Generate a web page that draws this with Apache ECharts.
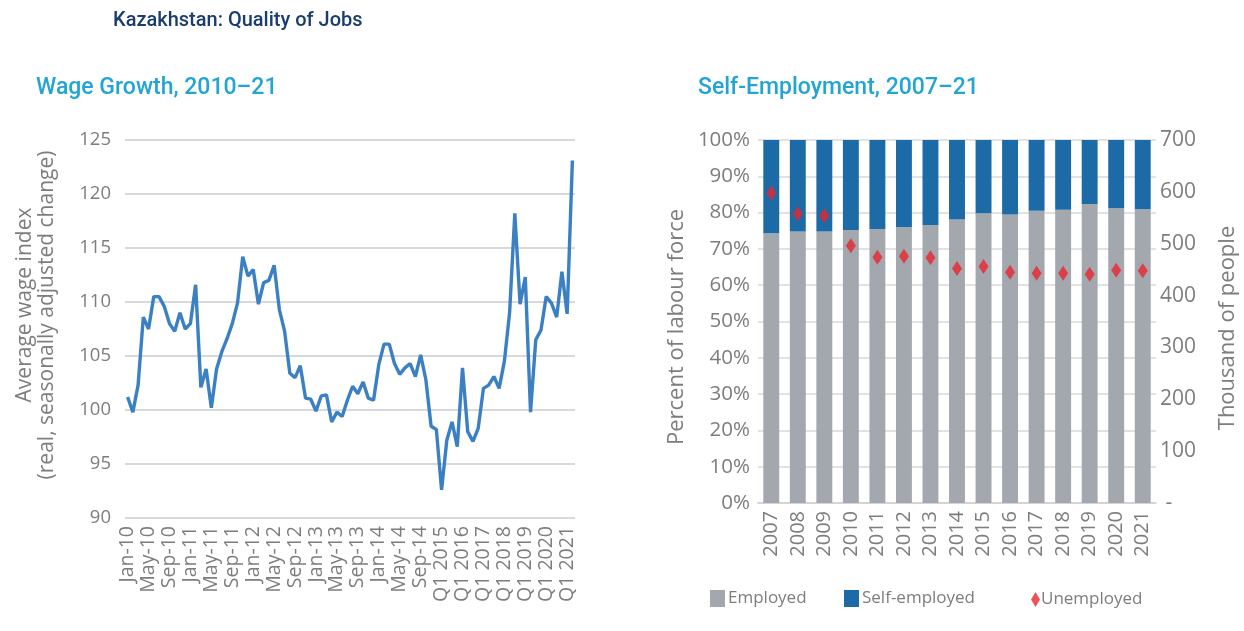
<!DOCTYPE html>
<html>
<head>
<meta charset="utf-8">
<script src="https://cdn.jsdelivr.net/npm/echarts@6/dist/echarts.min.js"></script>
<style>
html,body{margin:0;padding:0;background:#fff;}
#chart{width:1244px;height:631px;}
</style>
</head>
<body>
<div id="chart"></div>
<script>
// ---- Left panel: wage index ----
const wageCategories = [
 "Jan-10","Feb-10","Mar-10","Apr-10","May-10","Jun-10","Jul-10","Aug-10","Sep-10","Oct-10","Nov-10","Dec-10",
 "Jan-11","Feb-11","Mar-11","Apr-11","May-11","Jun-11","Jul-11","Aug-11","Sep-11","Oct-11","Nov-11","Dec-11",
 "Jan-12","Feb-12","Mar-12","Apr-12","May-12","Jun-12","Jul-12","Aug-12","Sep-12","Oct-12","Nov-12","Dec-12",
 "Jan-13","Feb-13","Mar-13","Apr-13","May-13","Jun-13","Jul-13","Aug-13","Sep-13","Oct-13","Nov-13","Dec-13",
 "Jan-14","Feb-14","Mar-14","Apr-14","May-14","Jun-14","Jul-14","Aug-14","Sep-14","Oct-14","Nov-14","Dec-14",
 "Q1 2015","Q2 2015","Q3 2015","Q4 2015","Q1 2016","Q2 2016","Q3 2016","Q4 2016",
 "Q1 2017","Q2 2017","Q3 2017","Q4 2017","Q1 2018","Q2 2018","Q3 2018","Q4 2018",
 "Q1 2019","Q2 2019","Q3 2019","Q4 2019","Q1 2020","Q2 2020","Q3 2020","Q4 2020",
 "Q1 2021","Q2 2021"
];
const wageIndex = [
 101.2, 99.8, 102.3, 108.6, 107.5, 110.5, 110.5, 109.6, 108.0, 107.3, 109.0, 107.5,
 108.0, 111.6, 102.1, 103.8, 100.2, 103.8, 105.4, 106.6, 108.0, 109.9, 114.2, 112.4,
 113.0, 109.8, 111.8, 112.0, 113.4, 109.3, 107.3, 103.4, 103.0, 104.1, 101.1, 101.0,
 99.9, 101.3, 101.4, 98.9, 99.8, 99.4, 100.9, 102.2, 101.5, 102.6, 101.1, 100.9,
 104.2, 106.1, 106.1, 104.3, 103.3, 103.9, 104.3, 103.1, 105.1, 102.8, 98.5, 98.2,
 92.6, 97.2, 98.9, 96.6, 103.9, 98.0, 97.1, 98.3,
 102.0, 102.3, 103.1, 102.0, 104.5, 109.0, 118.2, 109.8,
 112.3, 99.8, 106.5, 107.4, 110.5, 109.9, 108.6, 112.8,
 108.9, 123.1
];
const wageTicks = [90, 95, 100, 105, 110, 115, 120, 125];

// ---- Right panel: self-employment ----
const years = ["2007","2008","2009","2010","2011","2012","2013","2014","2015","2016","2017","2018","2019","2020","2021"];
const employedPct =     [74.3, 74.8, 74.8, 75.2, 75.5, 76.0, 76.6, 78.1, 79.8, 79.5, 80.5, 80.8, 82.4, 81.2, 80.9];
const selfEmployedPct = [25.7, 25.2, 25.2, 24.8, 24.5, 24.0, 23.4, 21.9, 20.2, 20.5, 19.5, 19.2, 17.6, 18.8, 19.1];
const unemployedThous = [598, 558, 554, 496, 474, 476, 473, 452, 456, 445, 443, 443, 441, 449, 448];

const GREY_TXT = '#7d7d7d';
const FONT = 'Open Sans';
const GRID_C = '#d9d9d9';

function vText(text, x, y, size) {
  return {type: 'text', x: x, y: y, rotation: Math.PI / 2, silent: true,
    style: {text: text, fill: GREY_TXT, fontFamily: FONT, fontSize: size,
            align: 'center', verticalAlign: 'middle'}};
}

const chart = echarts.init(document.getElementById('chart'), null, {renderer: 'canvas'});

chart.setOption({
  backgroundColor: '#ffffff',
  animation: false,
  textStyle: {fontFamily: FONT},
  title: [
    {text: 'Kazakhstan: Quality of Jobs', left: 113, top: 11, padding: 0,
     textStyle: {fontFamily: 'Roboto', fontWeight: 500, fontSize: 20, color: '#1a3d6d'}},
    {text: 'Wage Growth, 2010\u201321', left: 36, top: 77, padding: 0,
     textStyle: {fontFamily: 'Roboto', fontWeight: 500, fontSize: 23, color: '#22a5d3'}},
    {text: 'Self-Employment, 2007\u201321', left: 698, top: 77, padding: 0,
     textStyle: {fontFamily: 'Roboto', fontWeight: 500, fontSize: 23, color: '#22a5d3'}}
  ],
  graphic: [
    vText('Average wage index', 25, 305, 21),
    vText('(real, seasonally adjusted change)', 47, 315, 21),
    vText('Percent of labour force', 677, 327, 22),
    vText('Thousand of people', 1228, 328, 22)
  ],
  legend: [
    {data: [{name: 'Employed', icon: 'rect'}], left: 710, top: 590, padding: 0, itemWidth: 15, itemHeight: 17,
     textStyle: {color: GREY_TXT, fontSize: 17, fontFamily: FONT, padding: [0,0,0,-2]}},
    {data: [{name: 'Self-employed', icon: 'rect'}], left: 844, top: 590, padding: 0, itemWidth: 15, itemHeight: 17,
     textStyle: {color: GREY_TXT, fontSize: 17, fontFamily: FONT, padding: [0,0,0,-2]}},
    {data: [{name: 'Unemployed', icon: 'diamond'}], left: 1031, top: 591, padding: 0, itemWidth: 9, itemHeight: 15,
     textStyle: {color: GREY_TXT, fontSize: 17, fontFamily: FONT, padding: [0,0,0,-4]}}
  ],
  grid: [
    {left: 125, right: 669, top: 140, bottom: 113},
    {left: 758, right: 88, top: 140, bottom: 128}
  ],
  xAxis: [
    {type: 'category', gridIndex: 0, data: wageCategories, boundaryGap: true,
     axisLine: {show: false}, axisTick: {show: false},
     axisLabel: {interval: 3, rotate: 90, color: GREY_TXT, fontSize: 19.5, fontFamily: FONT, margin: 8}},
    {type: 'category', gridIndex: 1, data: years,
     axisLine: {show: true, lineStyle: {color: '#cfcfcf', width: 1.5}}, axisTick: {show: false},
     axisLabel: {rotate: 90, color: GREY_TXT, fontSize: 20, fontFamily: FONT, margin: 8}}
  ],
  yAxis: [
    {type: 'value', gridIndex: 0, min: wageTicks[0], max: wageTicks[wageTicks.length - 1], interval: 5,
     axisLine: {show: false}, axisTick: {show: false},
     splitLine: {lineStyle: {color: GRID_C, width: 2}},
     axisLabel: {color: GREY_TXT, fontSize: 18.5, fontFamily: FONT, margin: 14}},
    {type: 'value', gridIndex: 1, min: 0, max: 100, interval: 10,
     axisLine: {show: false}, axisTick: {show: false},
     splitLine: {lineStyle: {color: GRID_C, width: 1.5}},
     axisLabel: {color: GREY_TXT, fontSize: 20.5, fontFamily: FONT, margin: 8, formatter: v => v + '%'}},
    {type: 'value', gridIndex: 1, position: 'right', min: 0, max: 700, interval: 100,
     axisLine: {show: false}, axisTick: {show: false}, splitLine: {show: false},
     axisLabel: {color: GREY_TXT, fontSize: 21, fontFamily: FONT, margin: 4, formatter: v => v === 0 ? ' -' : String(v)}}
  ],
  series: [
    {name: 'Wage index', type: 'line', xAxisIndex: 0, yAxisIndex: 0, data: wageIndex,
     showSymbol: false, lineStyle: {color: '#3a80c3', width: 3.4}, itemStyle: {color: '#3a80c3'}},
    {name: 'Employed', type: 'bar', xAxisIndex: 1, yAxisIndex: 1, stack: 'lf', data: employedPct,
     barCategoryGap: '40%', itemStyle: {color: '#a3a8af'}},
    {name: 'Self-employed', type: 'bar', xAxisIndex: 1, yAxisIndex: 1, stack: 'lf', data: selfEmployedPct,
     barCategoryGap: '40%', itemStyle: {color: '#1c6aa6'}},
    {name: 'Unemployed', type: 'scatter', xAxisIndex: 1, yAxisIndex: 2, data: unemployedThous,
     symbol: 'diamond', symbolSize: [10, 15], itemStyle: {color: '#e8262f'}, z: 5}
  ]
});
</script>
</body>
</html>
